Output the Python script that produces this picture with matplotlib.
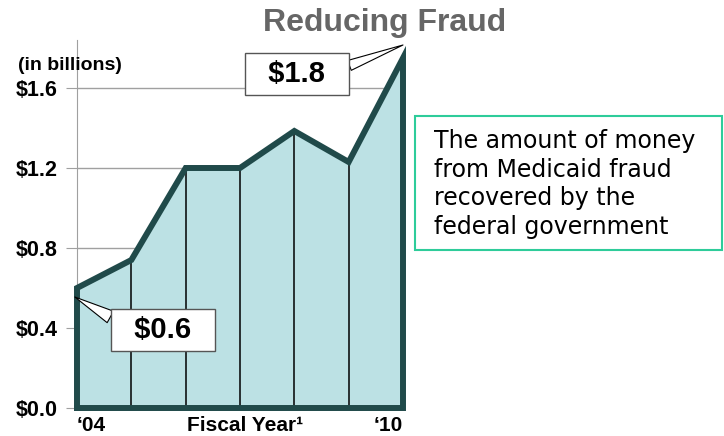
import matplotlib
matplotlib.use('Agg')
import matplotlib.pyplot as plt

years = [2004, 2005, 2006, 2007, 2008, 2009, 2010]
recovered = [0.6, 0.74, 1.2, 1.2, 1.385, 1.23, 1.75]
y_ticks = [0.0, 0.4, 0.8, 1.2, 1.6]
y_labels = ['$0.0', '$0.4', '$0.8', '$1.2', '$1.6']
x_ticks = [2004, 2007.1, 2010]
x_labels = ['\u201804', 'Fiscal Year\u00b9', '\u201810']

dark = '#204a4a'
fill_col = '#bce1e4'

fig = plt.figure(figsize=(7.24, 4.36), dpi=100)
ax = fig.add_axes([77 / 724, 1 - 408 / 436, 326 / 724, 368 / 436])
ax.set_xlim(2004, 2010)
ax.set_ylim(0, 1.84)

# grid behind the area
for v in y_ticks[1:]:
    ax.axhline(v, color='#a0a0a0', lw=1, zorder=0)

ax.fill_between(years, recovered, 0, color=fill_col, zorder=1)
for yr, v in zip(years[1:-1], recovered[1:-1]):
    ax.plot([yr, yr], [0, v], color='black', lw=1.1, zorder=2)

# outline of the area
xs = [years[0]] + years + [years[-1], years[0]]
ys = [0] + recovered + [0, 0]
ax.plot(xs, ys, color=dark, lw=4.3, solid_joinstyle='miter', clip_on=False, zorder=3)

for s in ['top', 'right', 'bottom']:
    ax.spines[s].set_visible(False)
ax.spines['left'].set_color('#a0a0a0')

ax.set_yticks(y_ticks)
ax.set_yticklabels(y_labels, fontfamily='Liberation Sans', fontweight='bold', fontsize=15.5)
ax.tick_params(axis='y', length=8, color='#a0a0a0', pad=6)
ax.set_xticks(x_ticks)
ax.set_xticklabels(x_labels, fontfamily='Liberation Sans', fontweight='bold', fontsize=15)
ax.tick_params(axis='x', length=0, pad=6)
xl = ax.get_xticklabels()
xl[0].set_ha('left')
xl[0].set_x(2003.92)
xl[2].set_ha('right')

fig.text(18 / 724, 1 - 66 / 436, '(in billions)', fontfamily='Liberation Sans',
         fontweight='bold', fontsize=14, va='center', ha='left')

fig.text(385 / 724, 1 - 23 / 436, 'Reducing Fraud', fontfamily='Liberation Sans',
         fontweight='bold', fontsize=23, color='#666666', ha='center', va='center')

# callouts with a wedge pointer
box = dict(boxstyle='square,pad=0.25', fc='white', ec='#555555', lw=1)
ax.annotate('  $1.8  ', xy=(2010, 1.815), xytext=(2008.05, 1.67), ha='center', va='center',
            fontfamily='Liberation Sans', fontweight='bold', fontsize=21, bbox=box,
            arrowprops=dict(arrowstyle='wedge,tail_width=0.36,shrink_factor=0.5',
                            fc='white', ec='black', lw=0.8, shrinkA=0, shrinkB=0,
                            relpos=(1, 0.7)),
            annotation_clip=False, zorder=5)
ax.annotate('  $0.6  ', xy=(2003.96, 0.555), xytext=(2005.58, 0.39), ha='center', va='center',
            fontfamily='Liberation Sans', fontweight='bold', fontsize=21, bbox=box,
            arrowprops=dict(arrowstyle='wedge,tail_width=0.45,shrink_factor=0.5',
                            fc='white', ec='black', lw=0.8, shrinkA=0, shrinkB=0,
                            relpos=(0, 0.81)),
            annotation_clip=False, zorder=5)

fig.text(434 / 724, 1 - 184 / 436,
         'The amount of money\nfrom Medicaid fraud\nrecovered by the\nfederal government',
         fontfamily='DejaVu Sans', fontsize=17, ha='left', va='center', linespacing=1.25)
rect = plt.Rectangle((415 / 724, 1 - 250 / 436), 307 / 724, 134 / 436, transform=fig.transFigure,
                     fill=False, ec='#2ecc9a', lw=1.5)
fig.patches.append(rect)

fig.savefig('out.png', dpi=100)
